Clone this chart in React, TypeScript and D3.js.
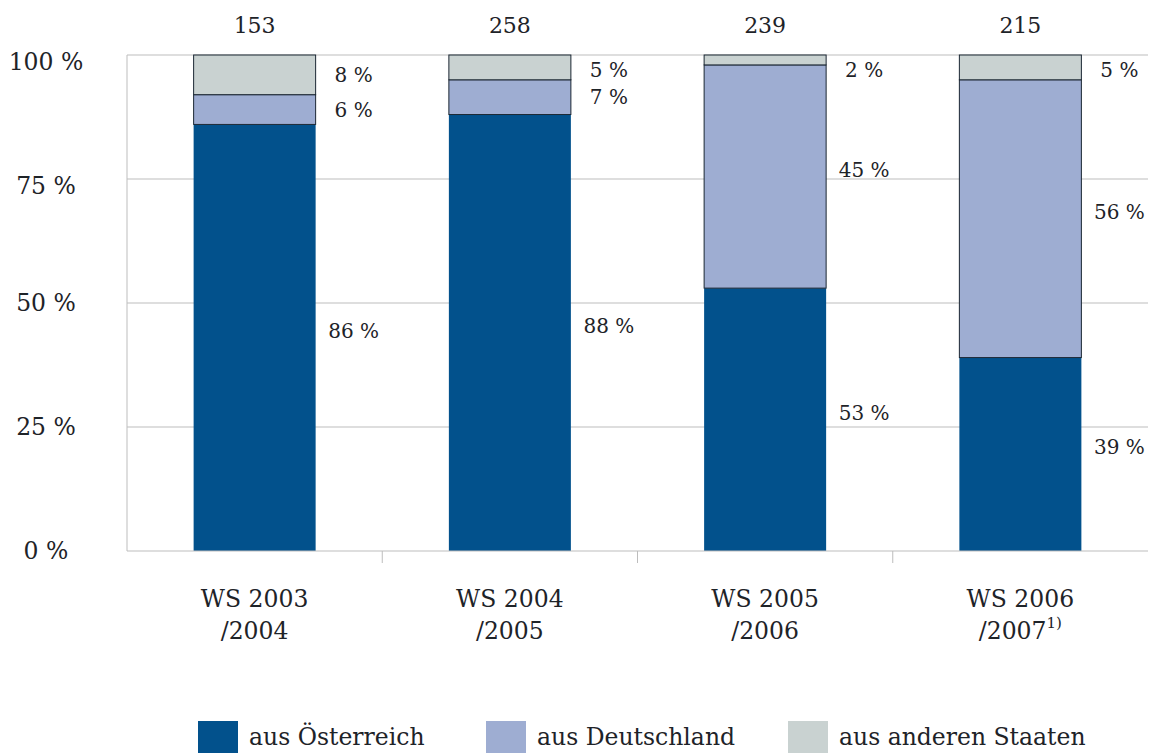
import * as d3 from "d3";

const CAT_LINE1 = ["WS 2003", "WS 2004", "WS 2005", "WS 2006"];
const CAT_LINE2 = ["/2004", "/2005", "/2006", "/2007"];
const CAT_NOTE = ["", "", "", "1)"];
const TOTALS = [153, 258, 239, 215];

const SERIES = ["aus Österreich", "aus Deutschland", "aus anderen Staaten"];
const AUS_AT = [86, 88, 53, 39];
const AUS_DE = [6, 7, 45, 56];
const AUS_OTHER = [8, 5, 2, 5];
const COLORS = ["#02518c", "#9eadd2", "#c9d2d1"];
const Y_TICKS = [0, 25, 50, 75, 100];

const W = 1150;
const H = 753;
const M = { left: 127, right: 1148, top: 55, bottom: 551 };
const FONT = "'DejaVu Serif', serif";
const TEXT = "#1e2328";
const GRID = "#bdbdbd";

export default function App() {
  const rows = CAT_LINE1.map((_, i) => ({
    i,
    at: AUS_AT[i],
    de: AUS_DE[i],
    other: AUS_OTHER[i],
  }));
  const keys = ["at", "de", "other"] as const;
  const stacked = d3.stack<any>().keys(keys as any)(rows);

  const x = d3
    .scaleBand<number>()
    .domain(rows.map((r) => r.i))
    .range([M.left, M.right])
    .paddingInner(0.522)
    .paddingOuter(0.261);
  const xOuter = d3
    .scaleBand<number>()
    .domain(rows.map((r) => r.i))
    .range([M.left, M.right]);
  const y = d3.scaleLinear().domain([0, 100]).range([M.bottom, M.top]);
  const bw = x.bandwidth();

  return (
    <svg
      width={W}
      height={H}
      style={{ position: "absolute", left: 0, top: 0, background: "#fff" }}
      fontFamily={FONT}
    >
      {/* grid + y labels */}
      {Y_TICKS.map((t) => (
        <g key={t}>
          {t > 0 && (
            <line x1={M.left} x2={M.right} y1={y(t)} y2={y(t)} stroke={GRID} />
          )}
          <text
            x={46}
            y={y(t) + (t >= 75 ? 7 : 0)}
            textAnchor="middle"
            dominantBaseline="central"
            fontSize={23.5}
            fill={TEXT}
          >
            {t} %
          </text>
        </g>
      ))}
      <line x1={M.left} x2={M.left} y1={M.top} y2={M.bottom} stroke={GRID} />

      {/* bars */}
      {stacked.map((s, si) =>
        s.map((d, i) => (
          <rect
            key={si + "-" + i}
            x={x(i)}
            width={bw}
            y={y(d[1])}
            height={y(d[0]) - y(d[1])}
            fill={COLORS[si]}
            stroke={si > 0 ? "#1b2733" : "none"}
            strokeWidth={si > 0 ? 1 : 0}
          />
        ))
      )}

      {/* value labels */}
      {stacked.map((s, si) =>
        s.map((d, i) => {
          const mid = (y(d[0]) + y(d[1])) / 2;
          const big = d[1] - d[0] > 30 ? -7 : 0;
          return (
            <text
              key={"v" + si + "-" + i}
              x={(x(i) as number) + bw + 38}
              y={Math.max(mid + big, M.top + 15)}
              textAnchor="middle"
              dominantBaseline="central"
              fontSize={20}
              fill={TEXT}
            >
              {d[1] - d[0]} %
            </text>
          );
        })
      )}

      {/* x axis */}
      <line x1={M.left} x2={M.right} y1={M.bottom} y2={M.bottom} stroke={GRID} />
      {rows.slice(1).map((r) => (
        <line
          key={"t" + r.i}
          x1={xOuter(r.i)}
          x2={xOuter(r.i)}
          y1={M.bottom}
          y2={M.bottom + 12}
          stroke={GRID}
        />
      ))}

      {/* totals + category labels */}
      {rows.map((r) => {
        const cx = (x(r.i) as number) + bw / 2;
        return (
          <g key={"c" + r.i} fill={TEXT}>
            <text x={cx} y={25} textAnchor="middle" dominantBaseline="central" fontSize={22}>
              {TOTALS[r.i]}
            </text>
            <text x={cx} y={599} textAnchor="middle" dominantBaseline="central" fontSize={23.5}>
              {CAT_LINE1[r.i]}
            </text>
            <text x={cx} y={631} textAnchor="middle" dominantBaseline="central" fontSize={23.5}>
              {CAT_LINE2[r.i]}
              {CAT_NOTE[r.i] && (
                <tspan fontSize={15} dy={-8}>
                  {CAT_NOTE[r.i]}
                </tspan>
              )}
            </text>
          </g>
        );
      })}

      {/* legend */}
      {SERIES.map((name, i) => {
        const lx = [198, 486, 788][i];
        return (
          <g key={name}>
            <rect x={lx} y={721} width={40} height={40} fill={COLORS[i]} />
            <text
              x={lx + 51}
              y={737}
              dominantBaseline="central"
              fontSize={23.5}
              fill={TEXT}
            >
              {name}
            </text>
          </g>
        );
      })}
    </svg>
  );
}
